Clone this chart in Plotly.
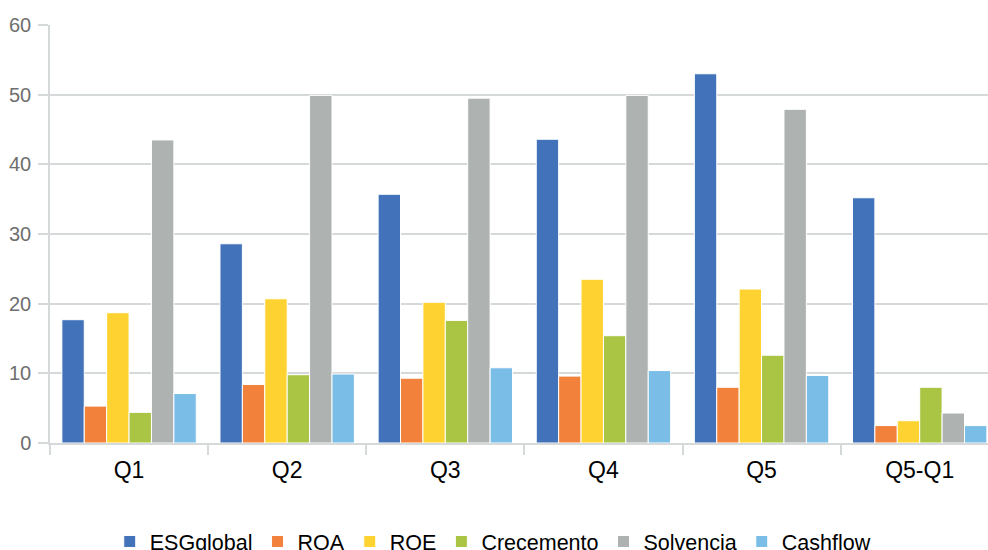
import plotly.graph_objects as go

categories = ["Q1", "Q2", "Q3", "Q4", "Q5", "Q5-Q1"]
series_names = ["ESGglobal", "ROA", "ROE", "Crecemento", "Solvencia", "Cashflow"]
esg = [17.7, 28.6, 35.7, 43.6, 53.0, 35.2]
roa = [5.3, 8.4, 9.3, 9.6, 8.0, 2.5]
roe = [18.7, 20.7, 20.2, 23.5, 22.1, 3.2]
crec = [4.4, 9.8, 17.6, 15.4, 12.6, 8.0]
solv = [43.5, 49.9, 49.5, 49.9, 47.9, 4.3]
cash = [7.1, 9.9, 10.8, 10.4, 9.7, 2.5]
y_ticks = [0, 10, 20, 30, 40, 50, 60]

values = [esg, roa, roe, crec, solv, cash]
colors = ["#4273BA", "#F2813C", "#FDD231", "#AAC543", "#AEB2B1", "#7ABEE8"]

fig = go.Figure()
for name, vals, col in zip(series_names, values, colors):
    fig.add_trace(go.Bar(
        x=categories, y=vals, name=name,
        marker=dict(color=col, line=dict(color="white", width=1)),
    ))

grid = "#D5D9D9"
fig.update_layout(
    width=988, height=562, autosize=False,
    margin=dict(l=50, r=0, t=25, b=115),
    paper_bgcolor="white", plot_bgcolor="white",
    barmode="group", bargap=0.15, bargroupgap=0,
    font=dict(family="Liberation Sans, Arial", color="black"),
    legend=dict(
        orientation="h", x=0.472, xanchor="center", y=-0.236, yanchor="middle",
        font=dict(size=21.5, color="black"), itemwidth=30, traceorder="normal",
    ),
    showlegend=True,
)
fig.update_xaxes(
    range=[-0.5, 5.432], automargin=False,
    showline=True, linecolor=grid, linewidth=1.5,
    ticks="outside", tickson="boundaries", ticklen=10, tickcolor=grid, tickwidth=1.5,
    tickfont=dict(size=23, color="black"), ticklabelstandoff=6,
    showgrid=False,
)
fig.update_yaxes(
    range=[0, 60], tickvals=y_ticks, automargin=False,
    showline=True, linecolor=grid, linewidth=1.5,
    showgrid=True, gridcolor=grid, gridwidth=1.5,
    ticks="outside", ticklen=10, tickcolor=grid, tickwidth=1.5,
    tickfont=dict(size=20, color="#6E6E6E"), ticklabelstandoff=3,
    zeroline=False,
)

fig.write_html(
    "out.html",
    config={"displayModeBar": False, "responsive": False},
    post_script="document.body.style.margin='0';document.body.style.overflow='hidden';",
)
